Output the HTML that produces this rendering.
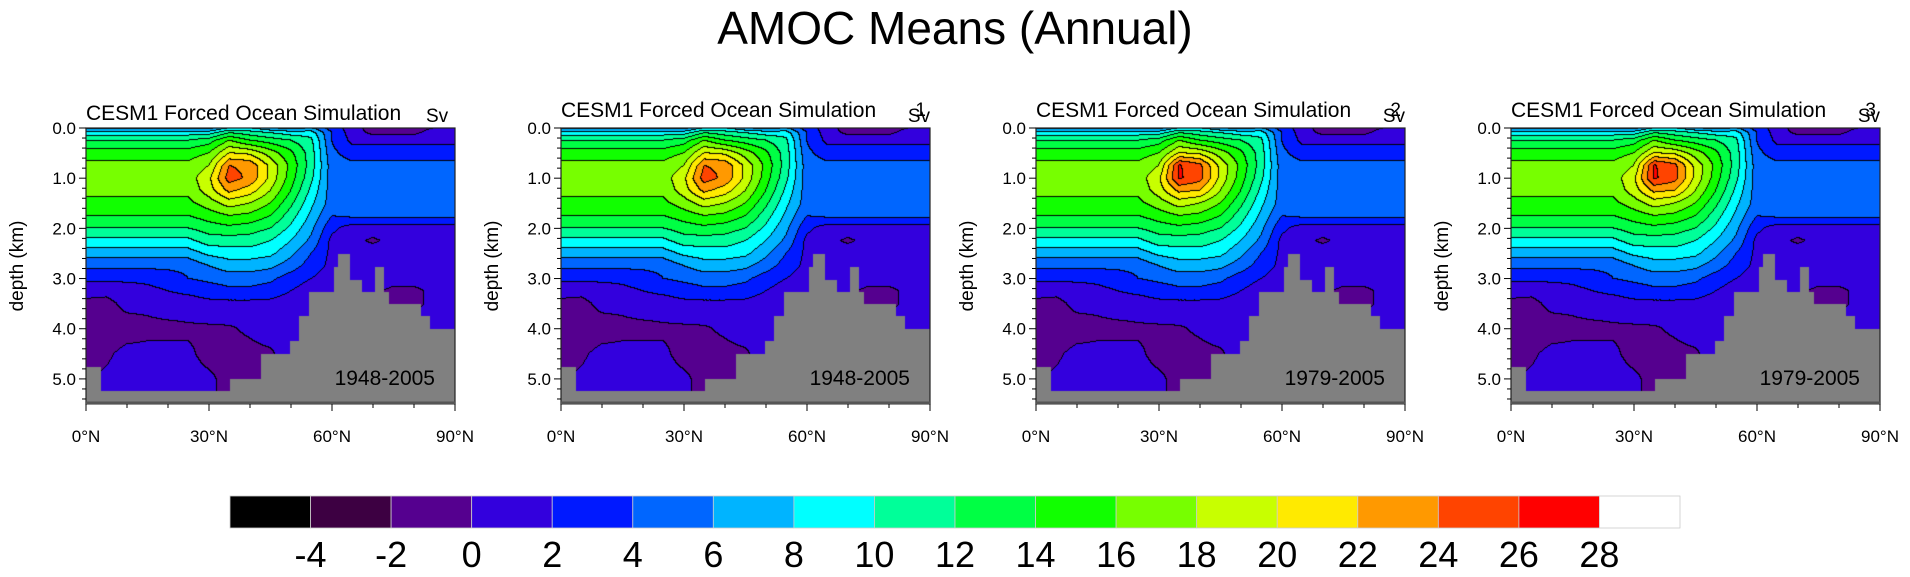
<!DOCTYPE html>
<html><head><meta charset="utf-8">
<style>
html,body{margin:0;padding:0;background:#fff;}
#root{position:relative;width:1910px;height:577px;overflow:hidden;font-family:"Liberation Sans",sans-serif;}
canvas{position:absolute;}
svg{position:absolute;left:0;top:0;}
</style></head>
<body>
<div id="root">
<svg id="ov" width="1910" height="577"></svg>
</div>
<script>
// ---- data ----
const lats = [0,5,10,15,20,25,30,35,40,45,50,55,60,65,70,75,80,85,90];
const depths = [0,0.1,0.25,0.5,0.75,1,1.25,1.5,1.75,2,2.25,2.5,2.75,3,3.25,3.5,4,4.5,5,5.5];
const moc = [
[5,5,5,5,5,5,5,8,8,6,5,6,3,1,-1,-1,-1,0,0],
[9,9,9,9,9,9,9,12,11,10,9,9,4,1,-0.5,-0.5,-0.5,1,1],
[12,12,12,12,12,12,13,16,14,13,12,10.5,4,1.5,1.5,1.5,1.5,1.5,1.5],
[15,15,15,15,15,15,16,20,19.5,17,14.5,11,4.5,3,3,3,3,3,3],
[16.5,16.5,16.5,16.5,16.5,16.5,18,24,23.5,19.5,15.5,11,5,4.5,4.5,4.5,4.5,4.5,4.5],
[17,17,17,17,17,17,19.5,25,23.5,19.5,15,10.5,5,5,5,5,5,5,5],
[16.5,16.5,16.5,16.5,16.5,16.5,19,22.5,21,18,14,9.5,5,5,5,5,5,5,5],
[15.5,15.5,15.5,15.5,15.5,15.5,17,19,18,16,12.5,8.5,5,5,5,5,5,5,5],
[14,14,14,14,14,14,15,16,15.5,14,11,7.5,4,4.5,4.5,4.5,4.5,4.5,4.5],
[12,12,12,12,12,12,13,13.5,13,12,9.5,6.5,2.5,1,1,1,1,1,1],
[9.5,9.5,9.5,9.5,9.5,9.5,11,11,11,10,8,5.5,1.5,0.5,-0.3,0.5,1,1,1],
[7,7,7,7,7,7,8.5,9,9,8.5,6.5,4,1.5,1,1,1,1,1,1],
[4.5,4.5,4.5,4.5,4.5,4.5,6,7,7,6.5,5,3,1.5,1,1,1,1,1,1],
[2.5,2.5,2.5,2.5,3,4,4.5,5,5,4.5,3,2,1,1,1,1,1,1,1],
[0.8,0.5,1,1.5,2,2.5,3,3.5,3.5,3,2,1,0.5,1,0.5,-0.5,-0.5,0.5,0.5],
[-0.5,-0.5,0.5,0.5,1,1,1.5,1.5,1.5,1.5,1,0.5,0.5,1,0.5,-0.5,-0.5,0.5,0.5],
[-0.5,-1,-0.8,-0.5,-0.5,-0.3,-0.3,-0.2,0.3,1,1,1,1,1,1,1,1,1,1],
[-0.5,-0.3,0.5,0.5,0.5,0.3,-0.5,-0.5,-0.5,-0.3,1,1,1,1,1,1,1,1,1],
[-0.3,0.3,0.8,0.8,0.8,0.5,0.3,-0.5,-0.5,-0.5,0.5,0.5,0.5,0.5,0.5,0.5,0.5,0.5,0.5],
[-0.3,0.3,0.8,0.8,0.8,0.5,0.3,-0.5,-0.5,-0.5,0.5,0.5,0.5,0.5,0.5,0.5,0.5,0.5,0.5]
];
// overrides for 1979-2005 panels: [depthIndex, latIndex, value]
const lateCore = [[4,7,26.2],[4,8,24.6],[5,7,26.3],[5,8,24.8],[6,8,22]];
const bathyLat = [0,3.7,35.2,42.8,49.7,52,54.5,60.5,61.5,64.5,67.2,70.4,72.8,73.9,81.8,83.9];
const bathyDepth = [4.76,5.24,5.0,4.5,4.25,3.74,3.26,2.77,2.52,3.02,3.26,2.77,3.26,3.5,3.74,4.0];
const levels = [-4,-2,0,2,4,6,8,10,12,14,16,18,20,22,24,26,28];
const colors = ["#000000","#3d0042","#55008f","#3300dd","#0019ff","#0066ff","#00b4ff","#00ffff","#00ff99","#00ff44","#11ff00","#77ff00","#c8ff00","#ffea00","#ff9900","#ff4400","#ff0000","#ffffff"];
const xTicks = [0,30,60,90];
const yTicks = [0,1,2,3,4,5];
const panels = [
 {left:86, suffix:"", period:"1948-2005", late:false},
 {left:561, suffix:"1", period:"1948-2005", late:false},
 {left:1036, suffix:"2", period:"1979-2005", late:true},
 {left:1511, suffix:"3", period:"1979-2005", late:true}
];
// ---- layout ----
const PW=369, PH=276, PT=128, DMAX=5.5;
const NS="http://www.w3.org/2000/svg";
const ov=document.getElementById('ov');
function mk(tag,attrs,parent){const e=document.createElementNS(NS,tag);for(const k in attrs)e.setAttribute(k,attrs[k]);(parent||ov).appendChild(e);return e;}
function xs(lat){return lat/90*PW;}
function ys(d){return d/DMAX*PH;}
function hexRGB(h){return [parseInt(h.substr(1,2),16),parseInt(h.substr(3,2),16),parseInt(h.substr(5,2),16)];}
const rgb=colors.map(hexRGB);
function levelIdx(v){let i=0;while(i<levels.length&&v>=levels[i])i++;return i;}
function bathy(lat){let d=bathyDepth[0];for(let i=0;i<bathyLat.length;i++){if(lat>=bathyLat[i])d=bathyDepth[i];}return d;}
function sample(grid,lat,d){
 let i=Math.min(lats.length-2,Math.floor(lat/5));let fx=(lat-lats[i])/(lats[i+1]-lats[i]);
 let j=0;while(j<depths.length-2&&d>depths[j+1])j++;let fy=(d-depths[j])/(depths[j+1]-depths[j]);
 fx=Math.max(0,Math.min(1,fx));fy=Math.max(0,Math.min(1,fy));
 const a=grid[j][i],b=grid[j][i+1],c=grid[j+1][i],e=grid[j+1][i+1];
 return a*(1-fx)*(1-fy)+b*fx*(1-fy)+c*(1-fx)*fy+e*fx*fy;
}
const root=document.getElementById('root');
const t=mk('text',{x:955,y:44,'text-anchor':'middle','font-size':46,fill:'#000'});t.textContent="AMOC Means (Annual)";



panels.forEach((p,pi)=>{
 const grid=moc.map(r=>r.slice());
 if(p.late) lateCore.forEach(o=>{grid[o[0]][o[1]]=o[2];});
 const cv=document.createElement('canvas');cv.width=PW;cv.height=PH;
 cv.style.left=p.left+'px';cv.style.top=PT+'px';
 
 
 root.insertBefore(cv,ov);
 const ctx=cv.getContext('2d');const img=ctx.createImageData(PW,PH);
 const idx=new Int16Array(PW*PH);
 for(let y=0;y<PH;y++)for(let x=0;x<PW;x++){
   const lat=(x+0.5)/PW*90,d=(y+0.5)/PH*DMAX;
   idx[y*PW+x]= d>=bathy(lat)?-1:levelIdx(sample(grid,lat,d));
 }
 for(let y=0;y<PH;y++)for(let x=0;x<PW;x++){
   const k=y*PW+x,v=idx[k];let c;
   if(v<0)c=[128,128,128];
   else{
     const r=x<PW-1?idx[k+1]:v,b=y<PH-1?idx[k+PW]:v;
     if((r>=0&&r!==v)||(b>=0&&b!==v))c=[0,0,0];else c=rgb[v];
   }
   img.data[k*4]=c[0];img.data[k*4+1]=c[1];img.data[k*4+2]=c[2];img.data[k*4+3]=255;
 }
 ctx.putImageData(img,0,0);
 const g=mk('g',{transform:`translate(${p.left},${PT})`});
 
 
 mk('rect',{x:0,y:0,width:PW,height:PH,fill:'none',stroke:'#222','stroke-width':1.2},g);
 mk('line',{x1:0,y1:PH-1,x2:PW,y2:PH-1,stroke:'#555','stroke-width':3},g);
 for(let d=0;d<=5.41;d+=0.2){const major=Math.abs(d-Math.round(d))<0.01;mk('line',{x1:major?-7:-4,x2:0,y1:ys(d),y2:ys(d),stroke:'#000','stroke-width':1},g);}
 yTicks.forEach(d=>{const tl=mk('text',{x:-10,y:ys(d)+6,'text-anchor':'end','font-size':17},g);tl.textContent=d.toFixed(1);
  });
 for(let l=0;l<=90;l+=10){const major=l%30===0;mk('line',{x1:xs(l),x2:xs(l),y1:PH,y2:PH+(major?7:4),stroke:'#000','stroke-width':1},g);}
 xTicks.forEach(l=>{const tl=mk('text',{x:xs(l),y:PH+38,'text-anchor':'middle','font-size':17},g);tl.textContent=l+"°N";
  });
 const yl=mk('text',{x:0,y:0,transform:`translate(-63,${PH/2}) rotate(-90)`,'text-anchor':'middle','font-size':19},g);yl.textContent="depth (km)";
 
 const st=mk('text',{x:0,y:p.suffix?-11:-8,'font-size':21},g);st.textContent="CESM1 Forced Ocean Simulation";
 
 const sv=mk('text',{x:p.suffix?PW:340,y:-6,'text-anchor':p.suffix?'end':'start','font-size':19},g);sv.textContent="Sv";
 
 if(p.suffix){const sf=mk('text',{x:PW-4,y:-12,'text-anchor':'end','font-size':19},g);sf.textContent=p.suffix;
  }
 const pr=mk('text',{x:PW-20,y:257,'text-anchor':'end','font-size':21},g);pr.textContent=p.period;
 
});
const CBL=230,CBT=496,CBW=1450/colors.length,CBH=32;
const cb=mk('g',{});


colors.forEach((c,i)=>{const r=mk('rect',{x:CBL+i*CBW,y:CBT,width:CBW,height:CBH,fill:c,stroke:'#ccc','stroke-width':0.8},cb);
 });
levels.forEach((l,i)=>{const tl=mk('text',{x:CBL+(i+1)*CBW,y:567,'text-anchor':'middle','font-size':36},cb);tl.textContent=l;
 });
</script>
</body></html>
